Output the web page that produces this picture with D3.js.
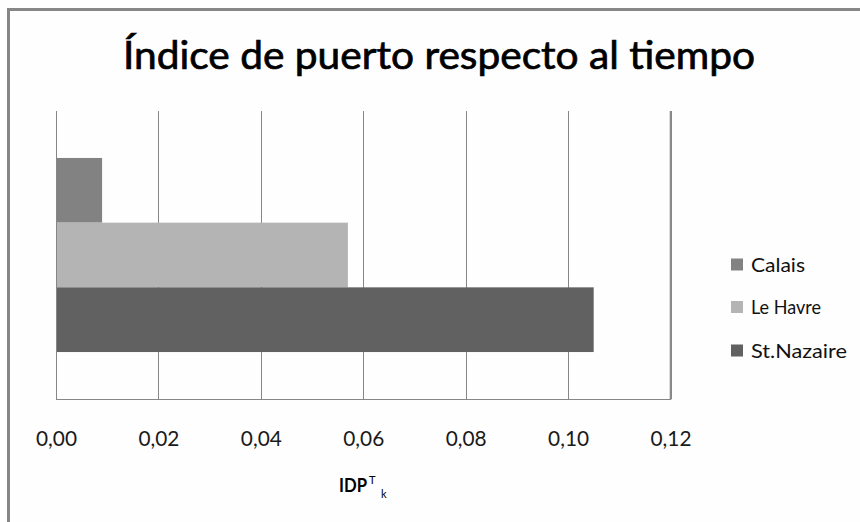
<!DOCTYPE html>
<html>
<head>
<meta charset="utf-8">
<script src="https://cdn.jsdelivr.net/npm/d3@7"></script>
<style>
  html, body { margin: 0; padding: 0; background: #ffffff; }
  svg { display: block; }
  text { font-family: Lato, "Open Sans", sans-serif; }
</style>
</head>
<body>
<svg id="chart" width="860" height="522"></svg>
<script>
// Chart data
const title = "Índice de puerto respecto al tiempo";
const categories = [""];
const seriesNames = ["Calais", "Le Havre", "St.Nazaire"];
const seriesValues = [0.009, 0.057, 0.105];
const seriesColors = ["#828282", "#b4b4b4", "#616161"];
const xTicks = [0, 0.02, 0.04, 0.06, 0.08, 0.10, 0.12];

const svg = d3.select("#chart");
const W = 860, H = 522;
const plot = { left: 56, right: 670.5, top: 111, bottom: 399 };

svg.append("rect").attr("width", W).attr("height", H).attr("fill", "#fefefe");

// Chart frame (runs off the right/bottom edge)
svg.append("rect")
  .attr("x", 8.5).attr("y", 9.5)
  .attr("width", 900).attr("height", 600)
  .attr("fill", "none").attr("stroke", "#868686").attr("stroke-width", 3);

// Title
svg.append("text")
  .attr("x", 123).attr("y", 69)
  .attr("font-size", 38)
  .attr("textLength", 632).attr("lengthAdjust", "spacingAndGlyphs")
  .attr("fill", "#000").attr("stroke", "#000").attr("stroke-width", 0.7)
  .text(title);

// Scales
const x = d3.scaleLinear().domain([0, 0.12]).range([plot.left, plot.right]);
const yCat = d3.scaleBand().domain(categories).range([plot.top, plot.bottom])
  .paddingInner(0).paddingOuter(0.242);
const ySer = d3.scaleBand().domain(seriesNames).range([0, yCat.bandwidth()]).padding(0);

// Vertical gridlines
svg.append("g").selectAll("line").data(xTicks).join("line")
  .attr("x1", d => Math.round(x(d)) + 0.5).attr("x2", d => Math.round(x(d)) + 0.5)
  .attr("y1", plot.top).attr("y2", plot.bottom)
  .attr("stroke", "#868686").attr("stroke-width", 1);

// Bars
const series = seriesNames.map((name, i) => ({ name, value: seriesValues[i], color: seriesColors[i] }));
svg.append("g").selectAll("rect").data(series).join("rect")
  .attr("x", x(0))
  .attr("y", d => yCat(categories[0]) + ySer(d.name))
  .attr("width", d => x(d.value) - x(0))
  .attr("height", ySer.bandwidth())
  .attr("fill", d => d.color);

// Axis baseline, left axis line and right edge
svg.append("line")
  .attr("x1", plot.left).attr("x2", plot.right + 0.5)
  .attr("y1", plot.bottom + 0.5).attr("y2", plot.bottom + 0.5)
  .attr("stroke", "#868686");
svg.append("line")
  .attr("x1", plot.left + 0.5).attr("x2", plot.left + 0.5)
  .attr("y1", plot.top).attr("y2", plot.bottom)
  .attr("stroke", "#868686");
svg.append("line")
  .attr("x1", plot.right).attr("x2", plot.right)
  .attr("y1", plot.top).attr("y2", plot.bottom + 1)
  .attr("stroke", "#8a8a8a").attr("stroke-width", 1.6);

// X tick labels
const fmt = d => d3.format(".2f")(d).replace(".", ",");
const xAxis = d3.axisBottom(x).tickValues(xTicks).tickFormat(fmt).tickSize(0).tickPadding(0);
const gx = svg.append("g").attr("transform", `translate(0, 431)`).call(xAxis);
gx.select(".domain").remove();
gx.selectAll("text")
  .attr("font-family", "Lato, 'Open Sans', sans-serif")
  .attr("font-size", 22)
  .attr("fill", "#1a1a1a")
  .attr("dy", "0.7em")
  .attr("textLength", 41).attr("lengthAdjust", "spacingAndGlyphs");

// X axis title: IDP^T_k
const xt = svg.append("text")
  .attr("x", 339).attr("y", 492)
  .attr("font-size", 18).attr("font-weight", "bold").attr("fill", "#000");
xt.append("tspan").attr("textLength", 28).attr("lengthAdjust", "spacingAndGlyphs").text("IDP");
svg.append("text").attr("x", 369).attr("y", 484)
  .attr("font-size", 11).attr("fill", "#000").text("T");
svg.append("text").attr("x", 381).attr("y", 498)
  .attr("font-size", 11).attr("fill", "#000").text("k");

// Legend
const legendY = [264.5, 307, 350.5];
const legendTextWidth = { "Calais": 54, "Le Havre": 70, "St.Nazaire": 96 };
const lg = svg.append("g").selectAll("g").data(series).join("g")
  .attr("transform", (d, i) => `translate(731, ${legendY[i]})`);
lg.append("rect").attr("x", 0).attr("y", -6).attr("width", 12).attr("height", 12)
  .attr("fill", d => d.color);
lg.append("text").attr("x", 20).attr("y", 7)
  .attr("font-size", 20).attr("fill", "#111")
  .attr("textLength", d => legendTextWidth[d.name]).attr("lengthAdjust", "spacingAndGlyphs")
  .text(d => d.name);
</script>
</body>
</html>
